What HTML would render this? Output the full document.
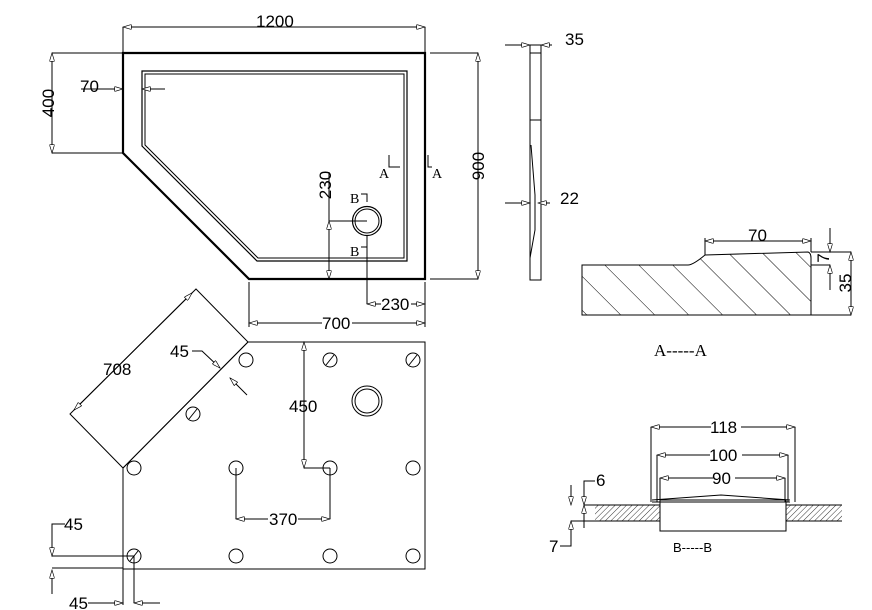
<!DOCTYPE html>
<html><head><meta charset="utf-8"><style>
html,body{margin:0;padding:0;background:#fff}
svg{display:block}
text{font-family:"Liberation Sans",sans-serif;font-size:17px;fill:#000}
.s{font-family:"Liberation Serif",serif}
</style></head><body>
<svg width="872" height="610" viewBox="0 0 872 610" xmlns="http://www.w3.org/2000/svg">
<defs>
<marker id="a" viewBox="0 0 10 6" refX="10" refY="3" markerWidth="10" markerHeight="5" orient="auto-start-reverse" markerUnits="userSpaceOnUse"><path d="M0,0 L10,3 L0,6 Z" fill="#fff" stroke="#000" stroke-width="0.8"/></marker>
<pattern id="h" width="24" height="24" patternUnits="userSpaceOnUse" patternTransform="rotate(-45)"><line x1="0" y1="0" x2="0" y2="24" stroke="#000" stroke-width="1"/></pattern>
<pattern id="h2" width="4" height="4" patternUnits="userSpaceOnUse" patternTransform="rotate(45)"><line x1="0" y1="0" x2="0" y2="4" stroke="#000" stroke-width="0.8"/></pattern>
</defs>
<g fill="none" stroke="#000" stroke-width="1">
<path d="M123,53 H425 V279 H249 L123,153 Z" stroke-width="2.2"/>
<path d="M142,71 H407 V261 H257 L142,146 Z" stroke-width="1.2"/>
<path d="M145,74 H404 V258 H258 L145,145 Z" stroke-width="1"/>
<line x1="123" y1="27" x2="425" y2="27" marker-start="url(#a)" marker-end="url(#a)"/>
<line x1="123" y1="27" x2="123" y2="53"/><line x1="425" y1="27" x2="425" y2="53"/>
<line x1="52" y1="53" x2="52" y2="153" marker-start="url(#a)" marker-end="url(#a)"/>
<line x1="52" y1="53" x2="123" y2="53"/><line x1="52" y1="153" x2="123" y2="153"/>
<line x1="81" y1="89" x2="123" y2="89" marker-end="url(#a)"/>
<line x1="165" y1="89" x2="142" y2="89" marker-end="url(#a)"/>
<line x1="478" y1="53" x2="478" y2="279" marker-start="url(#a)" marker-end="url(#a)"/>
<line x1="430" y1="53" x2="478" y2="53"/><line x1="430" y1="279" x2="478" y2="279"/>
<path d="M389,155 V167 H400"/><path d="M428,155 V167 H432"/>
<line x1="329" y1="172" x2="329" y2="221"/>
<line x1="329" y1="221" x2="329" y2="279" marker-start="url(#a)" marker-end="url(#a)"/>
<line x1="329" y1="221" x2="367" y2="221"/>
<circle cx="367" cy="221" r="14.5" stroke-width="1.2"/><circle cx="367" cy="221" r="12"/>
<path d="M361,194 H367 V202"/><line x1="361" y1="247" x2="367" y2="247"/>
<line x1="367" y1="235" x2="367" y2="304"/>
<line x1="367" y1="304" x2="381" y2="304" marker-start="url(#a)"/>
<line x1="411" y1="304" x2="425" y2="304" marker-end="url(#a)"/>
<line x1="249" y1="282" x2="249" y2="327"/><line x1="425" y1="282" x2="425" y2="327"/>
<line x1="249" y1="323" x2="322" y2="323" marker-start="url(#a)"/>
<line x1="352" y1="323" x2="425" y2="323" marker-end="url(#a)"/>
<path d="M248,342 H425 V569 H123 V468 Z"/>
<path d="M196,289 L248,342 L123,468 L70,414 Z"/>
<line x1="192" y1="293" x2="74" y2="410" marker-start="url(#a)" marker-end="url(#a)"/>
<path d="M192,351 H202 L220,368" marker-end="url(#a)"/>
<path d="M247,395 L230,378" marker-end="url(#a)"/>
<line x1="123" y1="468" x2="123" y2="605"/>
<line x1="304" y1="342" x2="304" y2="468" marker-start="url(#a)" marker-end="url(#a)"/>
<line x1="304" y1="468" x2="330" y2="468"/>
<line x1="236" y1="468" x2="236" y2="519"/><line x1="330" y1="468" x2="330" y2="519"/>
<line x1="236" y1="519" x2="268" y2="519" marker-start="url(#a)"/>
<line x1="298" y1="519" x2="330" y2="519" marker-end="url(#a)"/>
<circle cx="367" cy="401" r="15"/><circle cx="367" cy="401" r="12"/>
<g>
<circle cx="246" cy="360" r="7"/><circle cx="330" cy="360" r="7"/><circle cx="413" cy="360" r="7"/>
<circle cx="193" cy="414" r="7"/>
<circle cx="134" cy="468" r="7"/><circle cx="236" cy="468" r="7"/><circle cx="330" cy="468" r="7"/><circle cx="413" cy="468" r="7"/>
<circle cx="134" cy="556" r="7"/><circle cx="236" cy="556" r="7"/><circle cx="330" cy="556" r="7"/><circle cx="413" cy="556" r="7"/>
<line x1="326" y1="365" x2="334" y2="355"/><line x1="409" y1="365" x2="417" y2="355"/><line x1="189" y1="419" x2="197" y2="409"/><line x1="130" y1="561" x2="138" y2="551"/>
</g>
<path d="M65,524 H52 V556 H134"/>
<line x1="52" y1="524" x2="52" y2="556" marker-end="url(#a)"/>
<line x1="52" y1="568" x2="123" y2="568"/>
<line x1="52" y1="594" x2="52" y2="570" marker-end="url(#a)"/>
<line x1="88" y1="603" x2="123" y2="603" marker-end="url(#a)"/>
<line x1="134" y1="556" x2="134" y2="603"/>
<line x1="160" y1="603" x2="134" y2="603" marker-end="url(#a)"/>
<path d="M530,45 H541 V280 H530 Z"/>
<line x1="530" y1="53" x2="541" y2="53"/><line x1="530" y1="120" x2="541" y2="120"/>
<path d="M531,145 L535,195 L535,230 L530,258"/>
<line x1="505" y1="45" x2="530" y2="45" marker-end="url(#a)"/>
<line x1="552" y1="45" x2="541" y2="45" marker-end="url(#a)"/>
<line x1="505" y1="203" x2="530" y2="203" marker-end="url(#a)"/>
<line x1="550" y1="203" x2="538" y2="203" marker-end="url(#a)"/>
<path d="M582,315 V265 H688 Q693,265 705,255 L808,252 Q811,253 811,258 V315 Z" fill="url(#h)"/>
<line x1="811" y1="252" x2="851" y2="252"/><line x1="811" y1="315" x2="851" y2="315"/>
<line x1="811" y1="265" x2="830" y2="265"/>
<line x1="705" y1="255" x2="705" y2="238"/><line x1="811" y1="252" x2="811" y2="238"/>
<line x1="705" y1="241" x2="811" y2="241" marker-start="url(#a)" marker-end="url(#a)"/>
<line x1="830" y1="228" x2="830" y2="252" marker-end="url(#a)"/>
<line x1="830" y1="290" x2="830" y2="265" marker-end="url(#a)"/>
<line x1="851" y1="252" x2="851" y2="315" marker-start="url(#a)" marker-end="url(#a)"/>
<rect x="595" y="505" width="65" height="16" fill="url(#h2)" stroke="none"/>
<rect x="786" y="505" width="56" height="16" fill="url(#h2)" stroke="none"/>
<line x1="584" y1="505" x2="660" y2="505"/><line x1="584" y1="521" x2="660" y2="521"/>
<line x1="786" y1="505" x2="842" y2="505"/><line x1="786" y1="521" x2="842" y2="521"/>
<rect x="660" y="500" width="126" height="31"/>
<path d="M652,500 L721,495 L790,500"/>
<line x1="652" y1="502" x2="790" y2="502"/>
<line x1="651" y1="427" x2="651" y2="502"/><line x1="795" y1="427" x2="795" y2="502"/>
<line x1="651" y1="427" x2="711" y2="427" marker-start="url(#a)"/><line x1="741" y1="427" x2="795" y2="427" marker-end="url(#a)"/>
<line x1="657" y1="455" x2="657" y2="502"/><line x1="788" y1="455" x2="788" y2="502"/>
<line x1="657" y1="455" x2="710" y2="455" marker-start="url(#a)"/><line x1="742" y1="455" x2="788" y2="455" marker-end="url(#a)"/>
<line x1="660" y1="478" x2="660" y2="502"/><line x1="785" y1="478" x2="785" y2="502"/>
<line x1="660" y1="478" x2="713" y2="478" marker-start="url(#a)"/><line x1="735" y1="478" x2="785" y2="478" marker-end="url(#a)"/>
<path d="M595,481 H584 V505" marker-end="url(#a)"/>
<line x1="571" y1="485" x2="571" y2="505" marker-end="url(#a)"/>
<line x1="584" y1="528" x2="584" y2="505" marker-end="url(#a)"/>
<line x1="571" y1="521" x2="584" y2="521"/>
<path d="M560,546 H571 V521" marker-end="url(#a)"/>
</g>
<text x="256" y="27">1200</text>
<text x="80" y="92">70</text>
<text transform="translate(54,103) rotate(-90)" text-anchor="middle">400</text>
<text transform="translate(484,166) rotate(-90)" text-anchor="middle">900</text>
<text transform="translate(331,185) rotate(-90)" text-anchor="middle">230</text>
<text class="s" x="379" y="178" style="font-size:14px">A</text>
<text class="s" x="432" y="178" style="font-size:14px">A</text>
<text class="s" x="350" y="203" style="font-size:14px">B</text>
<text class="s" x="350" y="256" style="font-size:14px">B</text>
<text x="381" y="310">230</text>
<text x="322" y="329">700</text>
<text x="103" y="375">708</text>
<text x="170" y="357">45</text>
<text x="289" y="412">450</text>
<text x="269" y="525">370</text>
<text x="64" y="530">45</text>
<text x="69" y="609">45</text>
<text x="565" y="45">35</text>
<text x="560" y="204">22</text>
<text x="748" y="241">70</text>
<text transform="translate(829,258) rotate(-90)" text-anchor="middle">7</text>
<text transform="translate(851,283) rotate(-90)" text-anchor="middle">35</text>
<text class="s" x="654" y="356" style="font-size:17px">A-----A</text>
<text x="710" y="433">118</text>
<text x="709" y="461">100</text>
<text x="712" y="484">90</text>
<text x="596" y="486">6</text>
<text x="549" y="552">7</text>
<text x="673" y="552" style="font-size:13px">B-----B</text>
</svg>
</body></html>
